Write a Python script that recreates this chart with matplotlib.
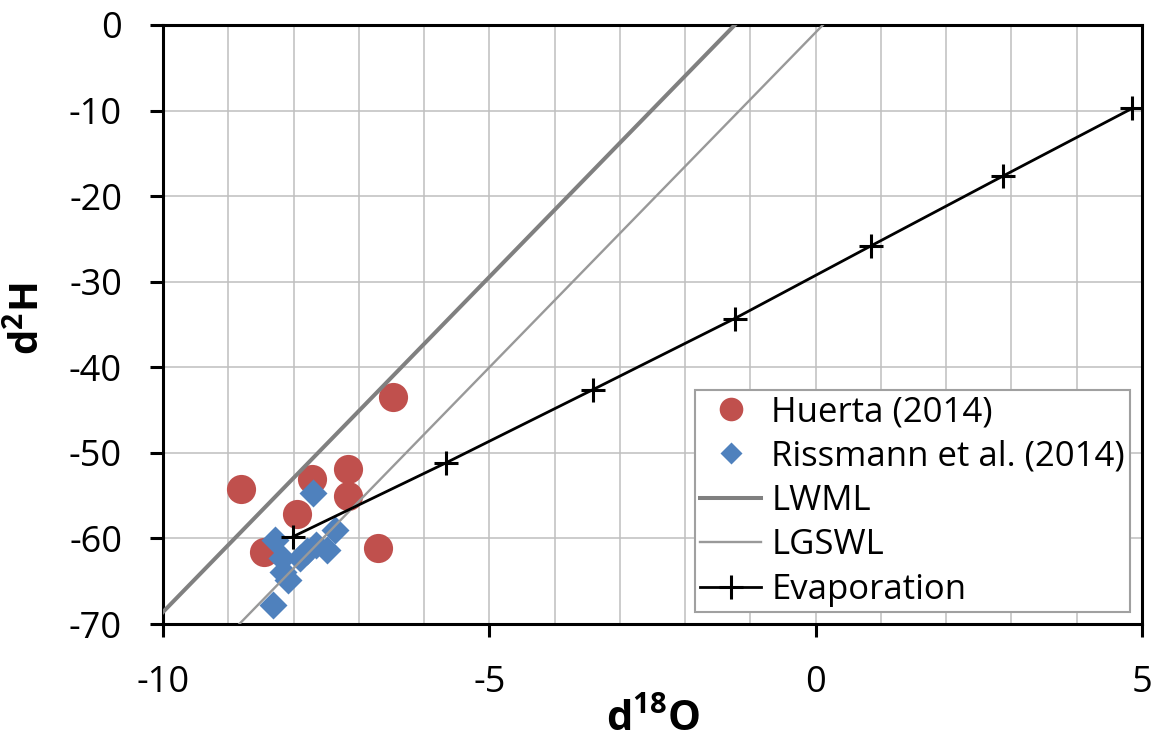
import numpy as np
import matplotlib
matplotlib.use("Agg")
import matplotlib.pyplot as plt

plt.rcParams['font.family'] = ['Open Sans', 'DejaVu Sans']
plt.rcParams['mathtext.fontset'] = 'custom'
plt.rcParams['mathtext.rm'] = 'Open Sans'
plt.rcParams['mathtext.bf'] = 'Open Sans:bold'
plt.rcParams['axes.unicode_minus'] = False

# data
huerta_x = [-6.47, -8.81, -7.71, -7.16, -7.16, -7.95, -8.46, -6.70]
huerta_y = [-43.5, -54.2, -53.0, -51.9, -55.1, -57.1, -61.6, -61.1]

rissmann_x = [-7.70, -8.28, -7.36, -7.49, -7.65, -7.90, -8.18, -8.16, -8.08, -8.31, -7.80]
rissmann_y = [-54.7, -60.2, -59.0, -61.3, -60.8, -62.3, -62.3, -63.9, -64.9, -67.8, -61.5]

lwml_x = [-10.0, -1.24]
lwml_y = [-68.6, 0.0]

lgswl_x = [-8.83, 0.11]
lgswl_y = [-70.0, 0.0]

evap_x = [-8.01, -5.66, -3.41, -1.24, 0.85, 2.87, 4.85]
evap_y = [-59.8, -51.15, -42.6, -34.3, -25.8, -17.65, -9.74]

xticks = [-10, -5, 0, 5]
yticks = [0, -10, -20, -30, -40, -50, -60, -70]

fig = plt.figure(figsize=(11.64, 7.47), dpi=100)
ax = fig.add_axes([163/1164, 1 - 624/747, (1142-163)/1164, (624-25)/747])

ax.plot(huerta_x, huerta_y, 'o', color='#C0504D', ms=21, mec='none',
        label='Huerta (2014)', zorder=3)
ax.plot(rissmann_x, rissmann_y, 'D', color='#4F81BD', ms=14.5, mec='none',
        label='Rissmann et al. (2014)', zorder=4)
ax.plot(lwml_x, lwml_y, '-', color='#808080', lw=2.9, label='LWML', zorder=5)
ax.plot(lgswl_x, lgswl_y, '-', color='#999999', lw=1.7, label='LGSWL', zorder=5)
ax.plot(evap_x, evap_y, '-+', color='black', lw=2, ms=17, mew=2.2,
        label='Evaporation', zorder=6)

ax.set_xlim(-10, 5)
ax.set_ylim(-70, 0)
ax.set_xticks(xticks)
ax.set_xticks(np.arange(-10, 6, 1), minor=True)
ax.set_yticks(yticks)
ax.tick_params(axis='both', which='major', direction='out', length=9.5, width=2.2,
               labelsize=26, pad=20)
ax.tick_params(axis='x', which='minor', length=0)
ax.grid(True, axis='x', which='both', color='#BFBFBF', lw=1.1, zorder=0)
ax.grid(True, axis='y', which='major', color='#BFBFBF', lw=1.1, zorder=0)
ax.set_axisbelow(True)
for sp in ax.spines.values():
    sp.set_linewidth(2.2)
    sp.set_color('black')

ax.set_xlabel(r'd$^{\mathbf{18}}$O', fontsize=30, fontweight='bold', va='top')
ax.xaxis.set_label_coords(0.5, -0.126)
ax.set_ylabel(r'd$^{\mathbf{2}}$H', fontsize=29, fontweight='bold', va='center')
ax.yaxis.set_label_coords(-0.139, 0.51)

leg = ax.legend(loc='lower right', bbox_to_anchor=(0.988, 0.02), borderaxespad=0,
                fontsize=25, frameon=True, fancybox=False, framealpha=1,
                edgecolor='#A0A0A0', handlelength=1.75, handletextpad=0.3,
                labelspacing=0.3, borderpad=0.15, numpoints=1)
leg.get_frame().set_linewidth(1.5)
leg.legend_handles[0].set_markersize(17)
leg.legend_handles[1].set_markersize(11)

fig.savefig('out.png', dpi=100)
